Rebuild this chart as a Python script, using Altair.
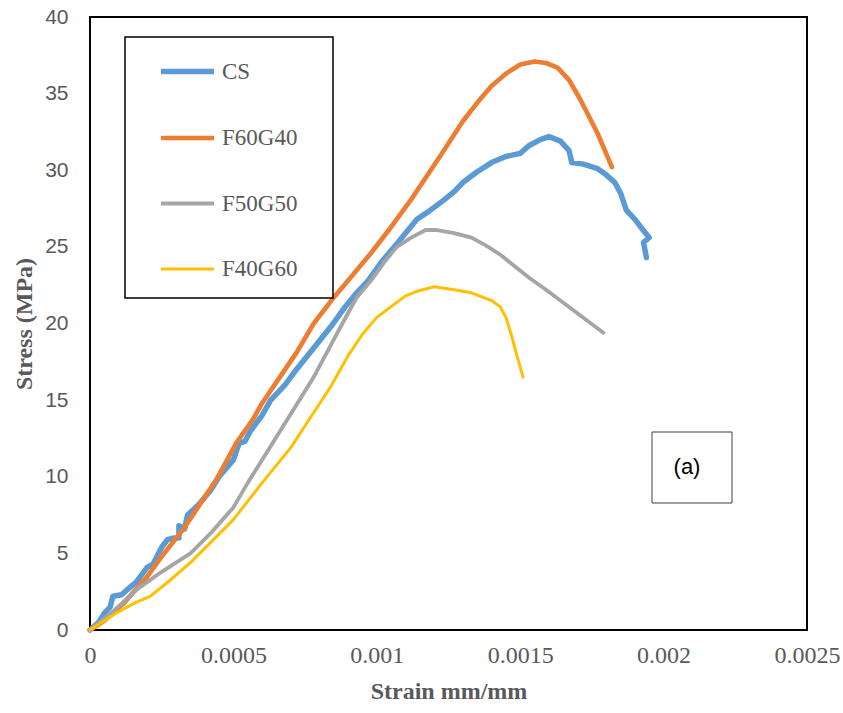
import altair as alt
import pandas as pd

series_names = ["CS", "F60G40", "F50G50", "F40G60"]
series_colors = ["#5B9BD5", "#ED7D31", "#A5A5A5", "#FFC000"]
series_widths = [5.5, 3, 3, 3.5]

cs_strain = [0, 0.00003, 0.00005, 0.00007, 0.00008, 0.00011, 0.00014, 0.00016, 0.00018, 0.0002,
             0.00022, 0.00025, 0.00027, 0.00029, 0.00031, 0.00031, 0.00033, 0.00034, 0.00038, 0.00042,
             0.00045, 0.0005, 0.00052, 0.00054, 0.00056, 0.0006, 0.00063, 0.00068, 0.00072, 0.00078,
             0.00084, 0.00089, 0.00093, 0.00097, 0.00102, 0.00107, 0.00114, 0.00118, 0.00123, 0.00127,
             0.0013, 0.00135, 0.0014, 0.00145, 0.0015, 0.00153, 0.00157, 0.0016, 0.00164, 0.00167,
             0.00168, 0.00172, 0.00177, 0.0018, 0.00183, 0.00185, 0.00187, 0.0019, 0.00192, 0.00195,
             0.00193, 0.00194]
cs_stress = [0, 0.5, 1.1, 1.5, 2.2, 2.3, 2.8, 3.1, 3.6, 4.1,
             4.3, 5.4, 5.9, 6.0, 6.0, 6.8, 6.6, 7.5, 8.2, 9.1,
             10.0, 11.1, 12.2, 12.3, 13.0, 14.0, 15.0, 16.0, 17.0, 18.4,
             19.8, 21.1, 22.0, 22.8, 24.1, 25.2, 26.8, 27.3, 28.0, 28.6,
             29.2, 29.9, 30.5, 30.9, 31.1, 31.6, 32.0, 32.2, 31.9, 31.3,
             30.5, 30.4, 30.1, 29.7, 29.2, 28.5, 27.4, 26.8, 26.3, 25.6,
             25.3, 24.3]

f60_strain = [0, 0.00005, 0.00012, 0.0002, 0.00025, 0.00033, 0.00044, 0.00051, 0.00057, 0.0006,
              0.00072, 0.00078, 0.00085, 0.0009, 0.00098, 0.00105, 0.00112, 0.00122, 0.0013, 0.00135,
              0.0014, 0.00145, 0.0015, 0.00155, 0.00159, 0.00163, 0.00167, 0.00171, 0.00177, 0.00182]
f60_stress = [0, 0.6, 1.8, 3.5, 4.8, 6.7, 9.8, 12.2, 13.8, 14.8,
              18.1, 20.0, 21.7, 22.8, 24.6, 26.3, 28.1, 30.9, 33.2, 34.4,
              35.5, 36.3, 36.9, 37.1, 37.0, 36.7, 35.9, 34.6, 32.4, 30.2]

f50_strain = [0, 0.00008, 0.00016, 0.00025, 0.00035, 0.00042, 0.0005, 0.00055, 0.00065, 0.00078,
              0.00088, 0.00093, 0.00098, 0.00103, 0.00107, 0.00112, 0.00117, 0.00121, 0.00127, 0.00133,
              0.00138, 0.00143, 0.00147, 0.00153, 0.00159, 0.00169, 0.00179]
f50_stress = [0, 1.2, 2.6, 3.8, 5.0, 6.3, 8.0, 9.6, 12.6, 16.5,
              20.0, 21.7, 22.8, 24.1, 25.0, 25.6, 26.1, 26.1, 25.9, 25.6,
              25.1, 24.5, 23.9, 23.0, 22.2, 20.8, 19.4]

f40_strain = [0, 0.00005, 0.0001, 0.00016, 0.00021, 0.00027, 0.00035, 0.00042, 0.0005, 0.0006,
              0.0007, 0.00077, 0.00084, 0.0009, 0.00095, 0.001, 0.00105, 0.0011, 0.00114, 0.0012,
              0.00127, 0.00133, 0.0014, 0.00143, 0.00145, 0.00147, 0.00149, 0.00151]
f40_stress = [0, 0.6, 1.2, 1.8, 2.2, 3.1, 4.4, 5.7, 7.2, 9.6,
              11.9, 13.9, 15.9, 17.9, 19.3, 20.4, 21.1, 21.8, 22.1, 22.4,
              22.2, 22.0, 21.5, 21.1, 20.4, 19.2, 17.8, 16.5]

x_ticks = [0, 0.0005, 0.001, 0.0015, 0.002, 0.0025]
y_ticks = [0, 5, 10, 15, 20, 25, 30, 35, 40]

rows = []
for name, xs, ys in [("CS", cs_strain, cs_stress), ("F60G40", f60_strain, f60_stress),
                     ("F50G50", f50_strain, f50_stress), ("F40G60", f40_strain, f40_stress)]:
    for i, (a, b) in enumerate(zip(xs, ys)):
        rows.append({"series": name, "strain": a, "stress": b, "idx": i})
df = pd.DataFrame(rows)

lines = alt.Chart(df).mark_line(strokeCap="round", strokeJoin="round").encode(
    x=alt.X("strain:Q", scale=alt.Scale(domain=[0, 0.0025], nice=False),
            axis=alt.Axis(values=x_ticks, format="~g", title="Strain mm/mm", grid=False,
                          ticks=False, domain=False, labelFont="Liberation Serif",
                          labelFontSize=24, labelColor="#595959", labelPadding=13,
                          titleFont="Liberation Serif", titleFontSize=24, titleFontWeight="bold",
                          titleColor="#595959", titlePadding=12, labelFlush=False)),
    y=alt.Y("stress:Q", scale=alt.Scale(domain=[0, 40], nice=False),
            axis=alt.Axis(values=y_ticks, title="Stress (MPa)", grid=False, ticks=False,
                          domain=False, labelFont="Liberation Sans", labelFontSize=21,
                          labelColor="#595959", labelPadding=22,
                          titleFont="Liberation Serif", titleFontSize=24, titleFontWeight="bold",
                          titleColor="#595959", titlePadding=8)),
    color=alt.Color("series:N", scale=alt.Scale(domain=series_names, range=series_colors),
                    legend=alt.Legend(title=None,
                                      orient="none", legendX=35, legendY=20,
                                      symbolType="stroke", symbolSize=2809, symbolStrokeWidth=4,
                                      symbolOffset=28, labelOffset=5,
                                      labelFont="Liberation Serif", labelFontSize=23,
                                      labelColor="#595959", rowPadding=25, padding=5)),
    strokeWidth=alt.StrokeWidth("series:N", scale=alt.Scale(domain=series_names, range=series_widths),
                                legend=None),
    order="idx:Q",
)

legend_frame = alt.Chart(alt.Data(values=[{}])).mark_rect(
    fill="white", stroke="black", strokeWidth=1.5
).encode(x=alt.value(35), x2=alt.value(243), y=alt.value(20), y2=alt.value(281))

box = alt.Chart(alt.Data(values=[{}])).mark_rect(fill="white", stroke="#404040", strokeWidth=1).encode(
    x=alt.value(562), x2=alt.value(642), y=alt.value(415), y2=alt.value(486)
)
label = alt.Chart(alt.Data(values=[{}])).mark_text(
    text="(a)", font="Liberation Sans", fontSize=22, color="black", baseline="middle", align="center"
).encode(x=alt.value(597), y=alt.value(450))

chart = alt.layer(lines, legend_frame, box, label).properties(
    width=717, height=613,
    autosize=alt.AutoSizeParams(type="none"),
    padding={"left": 90, "top": 17, "right": 36, "bottom": 83},
    background="white",
).configure_view(stroke="black", strokeWidth=2)

chart.save("out.html", embed_options={"renderer": "svg", "actions": False})
